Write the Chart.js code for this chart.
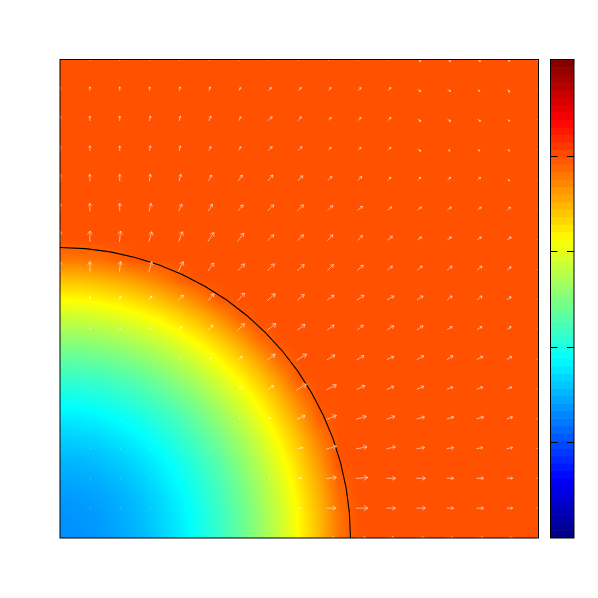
<!DOCTYPE html>
<html>
<head>
<meta charset="utf-8">
<style>
    html, body { margin: 0; padding: 0; background: #fff; }
    #wrap { position: relative; width: 598px; height: 598px; }
    canvas { position: absolute; left: 0; top: 0; }
</style>
<script src="https://cdn.jsdelivr.net/npm/chart.js@4"></script>
</head>
<body>
<div id="wrap">
    <canvas id="fieldChart" width="598" height="598"></canvas>
    <canvas id="barChart" width="598" height="598"></canvas>
</div>
<script>
// scalar field, 25 x 25 nodes, first row is the top of the plot
const heatValues = [
    [3.98,3.98,3.98,3.98,3.98,3.98,3.98,3.98,3.98,3.98,3.98,3.98,3.98,3.98,3.98,3.98,3.98,3.98,3.98,3.98,3.98,3.98,3.98,3.98,3.98],
    [3.98,3.98,3.98,3.98,3.98,3.98,3.98,3.98,3.98,3.98,3.98,3.98,3.98,3.98,3.98,3.98,3.98,3.98,3.98,3.98,3.98,3.98,3.98,3.98,3.98],
    [3.98,3.98,3.98,3.98,3.98,3.98,3.98,3.98,3.98,3.98,3.98,3.98,3.98,3.98,3.98,3.98,3.98,3.98,3.98,3.98,3.98,3.98,3.98,3.98,3.98],
    [3.98,3.98,3.98,3.98,3.98,3.98,3.98,3.98,3.98,3.98,3.98,3.98,3.98,3.98,3.98,3.98,3.98,3.98,3.98,3.98,3.98,3.98,3.98,3.98,3.98],
    [3.98,3.98,3.98,3.98,3.98,3.98,3.98,3.98,3.98,3.98,3.98,3.98,3.98,3.98,3.98,3.98,3.98,3.98,3.98,3.98,3.98,3.98,3.98,3.98,3.98],
    [3.98,3.98,3.98,3.98,3.98,3.98,3.98,3.98,3.98,3.98,3.98,3.98,3.98,3.98,3.98,3.98,3.98,3.98,3.98,3.98,3.98,3.98,3.98,3.98,3.98],
    [3.98,3.98,3.98,3.98,3.98,3.98,3.98,3.98,3.98,3.98,3.98,3.98,3.98,3.98,3.98,3.98,3.98,3.98,3.98,3.98,3.98,3.98,3.98,3.98,3.98],
    [3.98,3.98,3.98,3.98,3.98,3.98,3.98,3.98,3.98,3.98,3.98,3.98,3.98,3.98,3.98,3.98,3.98,3.98,3.98,3.98,3.98,3.98,3.98,3.98,3.98],
    [3.98,3.98,3.98,3.98,3.98,3.98,3.98,3.98,3.98,3.98,3.98,3.98,3.98,3.98,3.98,3.98,3.98,3.98,3.98,3.98,3.98,3.98,3.98,3.98,3.98],
    [3.98,3.98,3.98,3.98,3.98,3.98,3.98,3.98,3.98,3.98,3.98,3.98,3.98,3.98,3.98,3.98,3.98,3.98,3.98,3.98,3.98,3.98,3.98,3.98,3.98],
    [3.79,3.80,3.84,3.90,3.98,3.98,3.98,3.98,3.98,3.98,3.98,3.98,3.98,3.98,3.98,3.98,3.98,3.98,3.98,3.98,3.98,3.98,3.98,3.98,3.98],
    [3.45,3.46,3.50,3.56,3.65,3.76,3.90,3.98,3.98,3.98,3.98,3.98,3.98,3.98,3.98,3.98,3.98,3.98,3.98,3.98,3.98,3.98,3.98,3.98,3.98],
    [3.14,3.15,3.19,3.25,3.34,3.45,3.59,3.75,3.94,3.98,3.98,3.98,3.98,3.98,3.98,3.98,3.98,3.98,3.98,3.98,3.98,3.98,3.98,3.98,3.98],
    [2.85,2.86,2.90,2.96,3.05,3.16,3.30,3.46,3.65,3.87,3.98,3.98,3.98,3.98,3.98,3.98,3.98,3.98,3.98,3.98,3.98,3.98,3.98,3.98,3.98],
    [2.59,2.60,2.64,2.70,2.79,2.90,3.04,3.20,3.39,3.60,3.84,3.98,3.98,3.98,3.98,3.98,3.98,3.98,3.98,3.98,3.98,3.98,3.98,3.98,3.98],
    [2.35,2.36,2.40,2.46,2.55,2.66,2.80,2.96,3.15,3.36,3.60,3.87,3.98,3.98,3.98,3.98,3.98,3.98,3.98,3.98,3.98,3.98,3.98,3.98,3.98],
    [2.13,2.15,2.18,2.25,2.33,2.45,2.59,2.75,2.94,3.15,3.39,3.65,3.94,3.98,3.98,3.98,3.98,3.98,3.98,3.98,3.98,3.98,3.98,3.98,3.98],
    [1.95,1.96,2.00,2.06,2.15,2.26,2.40,2.56,2.75,2.96,3.20,3.46,3.75,3.98,3.98,3.98,3.98,3.98,3.98,3.98,3.98,3.98,3.98,3.98,3.98],
    [1.78,1.79,1.83,1.89,1.98,2.10,2.23,2.40,2.59,2.80,3.04,3.30,3.59,3.90,3.98,3.98,3.98,3.98,3.98,3.98,3.98,3.98,3.98,3.98,3.98],
    [1.64,1.66,1.69,1.76,1.84,1.96,2.10,2.26,2.45,2.66,2.90,3.16,3.45,3.76,3.98,3.98,3.98,3.98,3.98,3.98,3.98,3.98,3.98,3.98,3.98],
    [1.53,1.54,1.58,1.64,1.73,1.84,1.98,2.15,2.33,2.55,2.79,3.05,3.34,3.65,3.98,3.98,3.98,3.98,3.98,3.98,3.98,3.98,3.98,3.98,3.98],
    [1.44,1.46,1.49,1.56,1.64,1.76,1.89,2.06,2.25,2.46,2.70,2.96,3.25,3.56,3.90,3.98,3.98,3.98,3.98,3.98,3.98,3.98,3.98,3.98,3.98],
    [1.38,1.39,1.43,1.49,1.58,1.69,1.83,2.00,2.18,2.40,2.64,2.90,3.19,3.50,3.84,3.98,3.98,3.98,3.98,3.98,3.98,3.98,3.98,3.98,3.98],
    [1.34,1.36,1.39,1.46,1.54,1.66,1.79,1.96,2.15,2.36,2.60,2.86,3.15,3.46,3.80,3.98,3.98,3.98,3.98,3.98,3.98,3.98,3.98,3.98,3.98],
    [1.33,1.34,1.38,1.44,1.53,1.64,1.78,1.95,2.13,2.35,2.59,2.85,3.14,3.45,3.79,3.98,3.98,3.98,3.98,3.98,3.98,3.98,3.98,3.98,3.98]
];

// arrow components on the 17 x 17 nodes, first row is the top of the plot
const arrowU = [
    [0,0,0,0,1,2,2,3,3,3,3,3,3,3,3,2,1],
    [0,0,0,0,1,1,2,3,3,3,3,3,3,3,2,2,2],
    [0,0,0,1,1,2,2,4,3,3,3,3,3,3,3,2,2],
    [0,0,0,1,1,2,2,4,4,3,3,3,3,2,2,2,2],
    [0,0,0,1,2,3,4,5,5,4,4,3,3,3,3,2,2],
    [0,0,0,2,3,4,5,6,6,5,5,4,4,4,4,3,3],
    [0,0,1,3,4,6,6,6,6,5,5,5,4,4,4,4,3],
    [0,0,1,3,5,6,7,7,7,6,6,5,5,5,5,4,4],
    [0,0,1,3,5,6,7,8,7,7,7,7,6,5,5,4,4],
    [0,1,1,1,3,5,7,9,8,7,6,7,6,5,5,4,4],
    [0,0,0,0,1,2,4,8,10,8,7,7,7,6,6,5,5],
    [0,0,0,0,0,0,2,6,10,10,8,7,7,6,6,5,5],
    [0,0,0,0,0,0,1,2,8,10,10,8,8,7,7,6,6],
    [0,0,0,0,0,0,0,1,5,10,11,9,8,7,6,6,6],
    [0,0,0,0,0,0,0,1,3,10,12,9,9,7,7,6,6],
    [0,0,0,0,0,0,0,0,2,9,12,9,9,7,7,6,6],
    [0,0,0,0,0,0,0,0,2,8,10,8,8,7,7,6,6]
];
const arrowV = [
    [4,4,4,4,4,4,3,3,3,3,3,3,-2,-2,-2,-2,-2],
    [4,4,4,4,4,4,3,3,3,3,3,3,-2,-2,-2,-3,-3],
    [5,5,5,5,5,5,4,4,4,3,3,3,-2,-2,-2,-2,-2],
    [5,5,5,5,5,4,4,4,4,3,3,3,-2,-2,-2,-2,-2],
    [7,7,7,7,7,6,6,6,5,4,4,3,3,3,3,-2,-2],
    [8,8,8,8,7,7,6,6,6,5,4,3,3,3,3,3,3],
    [11,11,11,10,10,9,8,6,6,6,5,4,3,3,3,3,3],
    [10,10,10,10,10,8,7,7,6,6,5,4,4,4,4,3,3],
    [3,3,4,4,5,7,8,7,6,5,5,4,4,4,4,3,3],
    [1,1,1,1,3,5,7,7,6,5,5,4,4,3,3,3,3],
    [0,0,0,0,1,1,3,6,6,5,4,3,4,4,3,3,3],
    [0,0,0,0,0,0,2,4,6,5,4,3,3,2,2,2,2],
    [0,0,0,0,0,0,1,1,4,4,3,3,2,2,2,2,2],
    [0,0,0,0,0,0,0,0,1,3,2,2,1,1,1,1,1],
    [0,0,0,0,0,0,0,0,0,1,1,0,0,0,0,0,0],
    [0,0,0,0,0,0,0,0,0,0,0,0,0,0,0,0,0],
    [0,0,0,0,0,0,0,0,0,0,0,0,0,0,0,0,0]
];

// the black contour, bottom edge to left edge
const contourX = [9.724,9.687,9.576,9.392,9.138,8.813,8.421,7.966,7.449,6.876,6.251,5.578,4.862,4.109,3.326,2.517,1.688,0.848,0];
const contourY = [0,0.848,1.688,2.517,3.326,4.109,4.862,5.578,6.251,6.876,7.449,7.966,8.421,8.813,9.138,9.392,9.576,9.687,9.724];

// colour bar
const barLevels = [0,1,2,3,4,5,6,7,8,9,10,11,12,13,14,15,16,17,18,19,20,21,22,23,24,25,26,27,28,29,30,31,32,33,34,35,36,37,38,39,40,41,42,43,44,45,46,47,48,49,50,51,52,53,54,55,56,57,58,59,60,61,62,63];
const barTicks = [1, 2, 3, 4];

const valueMax = 5;
const axisMax = 16;
const arrowUnit = 0.0335;

function jet(t) {
    const c = v => Math.max(0, Math.min(1, 1.5 - Math.abs(4 * t - v))) * 255;
    return [c(3), c(2), c(1)];
}

// bilinear lookup in the node table, then the colour map
const heatPlugin = {
    id: 'heat',
    beforeDatasetsDraw(chart) {
        const { ctx, chartArea: a, scales } = chart;
        const w = Math.round(a.right - a.left);
        const h = Math.round(a.bottom - a.top);
        const off = document.createElement('canvas');
        off.width = w;
        off.height = h;
        const offCtx = off.getContext('2d');
        const img = offCtx.createImageData(w, h);
        const n = heatValues.length - 1;
        for (let py = 0; py < h; py++) {
            const gy = n - scales.y.getValueForPixel(a.top + py + 0.5) / axisMax * n;
            const r0 = Math.max(0, Math.min(n - 1, Math.floor(gy)));
            const fy = gy - r0;
            for (let px = 0; px < w; px++) {
                const gx = scales.x.getValueForPixel(a.left + px + 0.5) / axisMax * n;
                const c0 = Math.max(0, Math.min(n - 1, Math.floor(gx)));
                const fx = gx - c0;
                const val = (heatValues[r0][c0] * (1 - fx) + heatValues[r0][c0 + 1] * fx) * (1 - fy)
                    + (heatValues[r0 + 1][c0] * (1 - fx) + heatValues[r0 + 1][c0 + 1] * fx) * fy;
                const rgb = jet(val / valueMax);
                const i = (py * w + px) * 4;
                img.data[i] = rgb[0];
                img.data[i + 1] = rgb[1];
                img.data[i + 2] = rgb[2];
                img.data[i + 3] = 255;
            }
        }
        offCtx.putImageData(img, 0, 0);
        ctx.drawImage(off, a.left, a.top);
    }
};

const arrowPlugin = {
    id: 'arrows',
    afterDatasetsDraw(chart) {
        const { ctx, chartArea: a, scales } = chart;
        ctx.save();
        ctx.beginPath();
        ctx.rect(a.left, a.top, a.right - a.left, a.bottom - a.top);
        ctx.clip();
        ctx.lineWidth = 1;
        ctx.strokeStyle = 'rgba(255, 255, 255, 0.55)';
        ctx.fillStyle = 'rgba(255, 255, 255, 0.3)';
        arrowU.forEach((row, r) => {
            row.forEach((u, col) => {
                const v = arrowV[r][col];
                const gridX = col;
                const gridY = axisMax - r;
                // tail sits a little behind the node
                const x0 = scales.x.getPixelForValue(gridX - 0.25 * u * arrowUnit);
                const y0 = scales.y.getPixelForValue(gridY - 0.25 * v * arrowUnit);
                const x1 = scales.x.getPixelForValue(gridX + 0.75 * u * arrowUnit);
                const y1 = scales.y.getPixelForValue(gridY + 0.75 * v * arrowUnit);
                const len = Math.hypot(x1 - x0, y1 - y0);
                if (len < 0.5) {
                    ctx.fillRect(Math.round(x0), Math.round(y0), 1, 1);
                    return;
                }
                const ang = Math.atan2(y1 - y0, x1 - x0);
                const head = Math.min(4.5, 0.6 + len * 0.32);
                ctx.beginPath();
                ctx.moveTo(x0, y0);
                ctx.lineTo(x1, y1);
                ctx.moveTo(x1 - head * Math.cos(ang - 0.6), y1 - head * Math.sin(ang - 0.6));
                ctx.lineTo(x1, y1);
                ctx.lineTo(x1 - head * Math.cos(ang + 0.6), y1 - head * Math.sin(ang + 0.6));
                ctx.stroke();
            });
        });
        ctx.restore();
    }
};

const framePlugin = {
    id: 'frame',
    afterDraw(chart) {
        const { ctx, chartArea: a, scales } = chart;
        const isBar = !!scales.level;
        // the reference's edges fall unevenly on the pixel grid
        const left = a.left + (isBar ? 0.5 : 0);
        const right = a.right + (isBar ? 0 : 0.5);
        const top = a.top - 0.5;
        const bottom = a.bottom;
        ctx.save();
        ctx.strokeStyle = '#000';
        ctx.lineWidth = 1;
        if (isBar) {
            barTicks.forEach(t => {
                const py = Math.round(scales.level.getPixelForValue(t)) + 0.5;
                ctx.beginPath();
                ctx.moveTo(left, py);
                ctx.lineTo(left + 7, py);
                ctx.moveTo(right - 7, py);
                ctx.lineTo(right, py);
                ctx.stroke();
            });
        }
        ctx.strokeRect(left, top, right - left, bottom - top);
        ctx.restore();
    }
};

new Chart(document.getElementById('fieldChart'), {
    type: 'scatter',
    data: {
        datasets: [{
            data: contourX.map((x, i) => ({ x: x, y: contourY[i] })),
            showLine: true,
            borderColor: '#000',
            borderWidth: 1.1,
            pointRadius: 0,
            tension: 0
        }]
    },
    options: {
        responsive: false,
        animation: false,
        layout: { padding: { left: 60, right: 60, top: 60, bottom: 60 } },
        plugins: { legend: { display: false }, tooltip: { enabled: false } },
        scales: {
            x: { type: 'linear', min: 0, max: axisMax, display: false },
            y: { type: 'linear', min: 0, max: axisMax, display: false }
        }
    },
    plugins: [heatPlugin, arrowPlugin, framePlugin]
});

new Chart(document.getElementById('barChart'), {
    type: 'bar',
    data: {
        labels: barLevels,
        datasets: [{
            data: barLevels.map(() => 1),
            backgroundColor: barLevels.map(k => {
                const rgb = jet((k + 0.5) / barLevels.length);
                return 'rgb(' + rgb.map(Math.round).join(',') + ')';
            }),
            barPercentage: 1,
            categoryPercentage: 1
        }]
    },
    options: {
        indexAxis: 'y',
        responsive: false,
        animation: false,
        layout: { padding: { left: 550, right: 24, top: 60, bottom: 60 } },
        plugins: { legend: { display: false }, tooltip: { enabled: false } },
        scales: {
            x: { type: 'linear', min: 0, max: 1, display: false },
            y: { type: 'category', reverse: true, display: false },
            level: { type: 'linear', axis: 'y', min: 0, max: valueMax, offset: false, display: false }
        }
    },
    plugins: [framePlugin]
});
</script>
</body>
</html>
